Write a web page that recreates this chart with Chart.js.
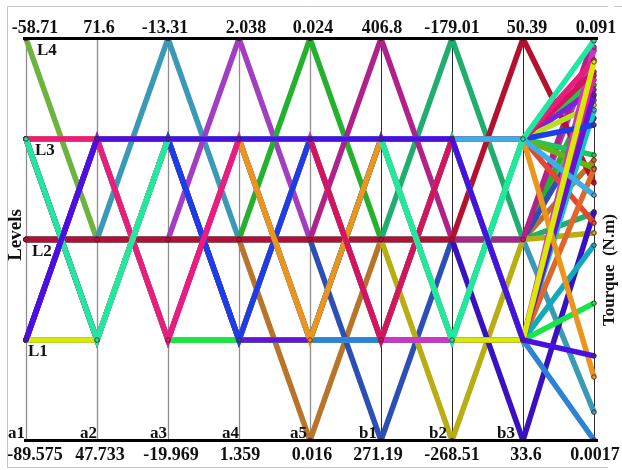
<!DOCTYPE html>
<html>
<head>
<meta charset="utf-8">
<script src="https://cdn.jsdelivr.net/npm/chart.js@4/dist/chart.umd.min.js"></script>
<style>
  html, body { margin: 0; padding: 0; background: #fff; }
  #wrap { position: relative; width: 622px; height: 470px; }
</style>
</head>
<body>
<div id="wrap"><canvas id="c" width="622" height="470"></canvas></div>
<script>
// Parallel-coordinates view of the design runs: eight factors plus the measured torque.
const axisNames  = ['a1', 'a2', 'a3', 'a4', 'a5', 'b1', 'b2', 'b3', 'Tourque'];
const maxLabels  = ['-58.71', '71.6', '-13.31', '2.038', '0.024', '406.8', '-179.01', '50.39', '0.091'];
const minLabels  = ['-89.575', '47.733', '-19.969', '1.359', '0.016', '271.19', '-268.51', '33.6', '0.0017'];
const levelNames = ['L1', 'L2', 'L3', 'L4'];
const torqueMin = 0.0017;
const torqueMax = 0.091;

// Factor settings per run (0 = lower bound, 1 = L1, 2 = L2, 3 = L3, 4 = L4)
const axialLevels = [
  [4,2,2,2,2,2,2,2],
  [2,2,4,2,2,2,2,2],
  [2,2,2,4,2,2,2,2],
  [2,2,2,2,4,2,2,2],
  [2,2,2,2,0,2,2,2],
  [2,2,2,2,2,0,2,2],
  [2,2,2,2,2,2,4,2],
  [2,2,2,2,2,2,0,2],
  [2,2,2,2,2,2,2,0],
  [2,2,2,2,2,4,2,2],
  [2,2,2,2,2,2,2,4]
];
const axialTorque = [0.0773, 0.0080, 0.0884, 0.0807, 0.0640, 0.0733, 0.0522, 0.0478, 0.0525, 0.0910, 0.0589];
const axialColors = ['#6cb33f', '#3a9ab6', '#a23ec2', '#24b22e', '#b8752a', '#2b4fb5',
                     '#1fae6e', '#b8ae14', '#3811c0', '#b0228a', '#b5112f'];

const factorialLevels = [
  [3,3,3,1,1,3,1,3],
  [1,3,1,3,3,1,3,3],
  [3,1,3,1,3,1,1,3],
  [1,1,3,3,3,3,1,3],
  [3,3,1,1,3,3,3,3],
  [1,3,3,1,1,1,3,3],
  [3,3,1,3,1,1,3,1],
  [1,1,3,1,1,3,3,1],
  [3,1,3,3,1,1,1,1],
  [1,3,3,3,3,1,1,1],
  [3,3,1,1,1,1,3,1],
  [3,1,3,3,1,1,1,1],
  [1,3,3,1,3,1,1,1],
  [1,3,3,1,1,3,1,1],
  [1,1,3,1,3,3,3,3],
  [3,3,3,3,1,3,3,3],
  [3,1,3,3,3,1,3,3],
  [3,3,1,3,3,3,3,3],
  [1,1,3,3,3,3,3,3],
  [1,1,3,3,3,3,1,1],
  [3,1,3,3,3,3,1,3],
  [1,3,3,3,3,3,3,1]
];
const factorialTorque = [0.0818, 0.0796, 0.0762, 0.0651, 0.0622, 0.0500, 0.0829, 0.0751, 0.0620, 0.0451,
                         0.0322, 0.0018, 0.0891, 0.0785, 0.0718, 0.0158, 0.0836, 0.0862, 0.0562, 0.0858,
                         0.0905, 0.0205];
const factorialColors = ['#2fc23a', '#7a22e0', '#b4e21e', '#22c45e', '#66b412', '#e6462e', '#e8209e', '#12c8c4',
                         '#e0662a', '#12aabb', '#18e646', '#2e82d6', '#d034c4', '#6614d4', '#1c3ee6', '#ea961c',
                         '#d4145e', '#ea1c7e', '#3eaee6', '#d8ea00', '#1ee8a2', '#4a10e2'];

// Torque shares the 0..4 level scale, stretched between its bounds
function torqueToLevel(t) {
  return (t - torqueMin) / (torqueMax - torqueMin) * 4;
}

const runs = [];
axialLevels.forEach((lv, i) => runs.push({ lv, t: axialTorque[i], color: axialColors[i] }));
factorialLevels.forEach((lv, i) => runs.push({ lv, t: factorialTorque[i], color: factorialColors[i] }));

const datasets = runs.map((r, i) => ({
  data: r.lv.concat([torqueToLevel(r.t)]),
  borderColor: r.color,
  backgroundColor: r.color,
  borderWidth: 5.5,
  tension: 0,
  pointRadius: 2.3,
  pointBorderWidth: 1,
  pointBorderColor: 'rgba(70,30,30,0.85)',
  pointBackgroundColor: r.color,
  order: runs.length - i
}));

const SERIF = '"Liberation Serif", "Times New Roman", serif';
const topOffsets = [9, 2, -3, 7, 3, 1, 0, 4, 2];
const bottomOffsets = [9, 3, 3, 1, 2, -3, 0, 3, 1];
const nameShift = [1, 0, 1, 0, 3, 4, 5, 8];

const decor = {
  id: 'decor',
  beforeDatasetsDraw(chart) {
    const { ctx, chartArea: a, scales: { x } } = chart;
    ctx.save();
    // light outer frame
    ctx.strokeStyle = '#c4c4c4';
    ctx.lineWidth = 1;
    ctx.beginPath();
    ctx.moveTo(7.5, 467.5); ctx.lineTo(7.5, 6.5); ctx.lineTo(608, 6.5);
    ctx.moveTo(614, 6.5); ctx.lineTo(622, 6.5);
    ctx.moveTo(7.5, 467.5); ctx.lineTo(608, 467.5);
    ctx.stroke();
    // vertical factor axes
    axisNames.forEach((n, i) => {
      const px = Math.round(x.getPixelForValue(i)) + 0.5;
      ctx.strokeStyle = i < 5 ? '#8e8e8e' : '#2a2a2a';
      ctx.lineWidth = i < 5 ? 1.3 : 1;
      ctx.beginPath();
      ctx.moveTo(px, a.top);
      ctx.lineTo(px, a.bottom);
      ctx.stroke();
    });
    ctx.restore();
  },
  afterDatasetsDraw(chart) {
    const { ctx, chartArea: a, scales: { x, y } } = chart;
    ctx.save();
    ctx.strokeStyle = '#000';
    ctx.lineWidth = 3;
    ctx.beginPath();
    ctx.moveTo(23, a.top); ctx.lineTo(598, a.top);
    ctx.moveTo(24, a.bottom); ctx.lineTo(598, a.bottom);
    ctx.stroke();

    ctx.fillStyle = '#111';
    ctx.font = 'bold 18px ' + SERIF;
    ctx.textAlign = 'center';
    ctx.textBaseline = 'alphabetic';
    axisNames.forEach((n, i) => {
      const px = x.getPixelForValue(i);
      ctx.fillText(maxLabels[i], px + topOffsets[i], 33);
      ctx.fillText(minLabels[i], px + bottomOffsets[i], 460);
    });

    ctx.font = 'bold 17px ' + SERIF;
    ctx.textAlign = 'right';
    axisNames.slice(0, 8).forEach((n, i) => {
      ctx.fillText(n, x.getPixelForValue(i) - nameShift[i], 438);
    });

    ctx.textAlign = 'left';
    const lx = [28, 32, 35, 37];
    levelNames.forEach((n, i) => {
      ctx.fillText(n, lx[i], y.getPixelForValue(i + 1) + 16);
    });

    ctx.font = 'bold 19px ' + SERIF;
    ctx.textAlign = 'center';
    ctx.save();
    ctx.translate(21, 235);
    ctx.rotate(-Math.PI / 2);
    ctx.fillText('Levels', 0, 0);
    ctx.restore();

    ctx.font = 'bold 17px ' + SERIF;
    ctx.save();
    ctx.translate(614, 270);
    ctx.rotate(-Math.PI / 2);
    ctx.fillText('Tourque  (N.m)', 0, 0);
    ctx.restore();
    ctx.restore();
  }
};

new Chart(document.getElementById('c'), {
  type: 'line',
  data: { labels: axisNames, datasets },
  options: {
    responsive: false,
    animation: false,
    events: [],
    layout: { padding: { left: 26, right: 28, top: 38.5, bottom: 29.5 } },
    plugins: { legend: { display: false }, tooltip: { enabled: false } },
    scales: {
      x: { display: false, offset: false },
      y: { display: false, min: 0, max: 4 }
    }
  },
  plugins: [decor]
});
</script>
</body>
</html>
